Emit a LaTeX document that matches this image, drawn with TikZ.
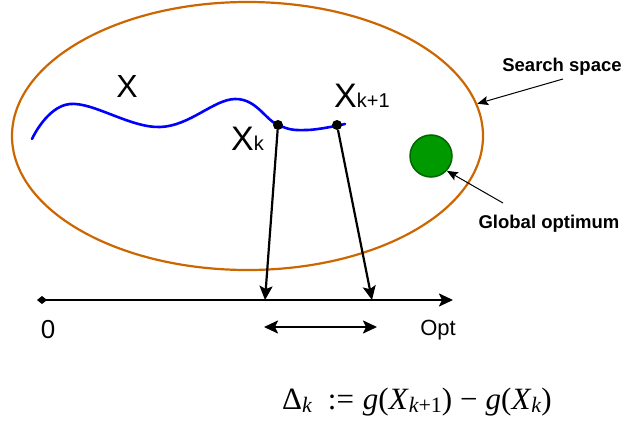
\documentclass[tikz,border=0pt]{standalone}
\usepackage{fontspec}
\setmainfont{Liberation Sans}
\newfontfamily\serif{Liberation Serif}
\usetikzlibrary{arrows.meta,calc,positioning,shapes.geometric}
\definecolor{spaceorange}{RGB}{204,102,0}
\definecolor{optgreen}{RGB}{0,153,0}
\definecolor{optborder}{RGB}{0,102,0}
\newcommand{\lowidx}[1]{\raisebox{-0.12em}{\fontsize{22}{26}\selectfont\itshape #1}}

\begin{document}
\begin{tikzpicture}[
    x=1pt, y=-1pt,
    space/.style={draw=spaceorange, line width=2.2pt, ellipse, minimum width=471pt, minimum height=268pt, inner sep=0pt},
    point/.style={circle, fill=black, inner sep=0pt, minimum size=10pt},
    label/.style={inner sep=0pt, font=\fontsize{32}{36}\selectfont},
    note/.style={inner sep=0pt, font=\bfseries\fontsize{18.5}{22}\selectfont},
    axistip/.tip={Stealth[length=14pt, width=13pt, inset=3pt]},
    arrow/.style={-axistip, line width=2.2pt},
    thinarrow/.style={-{Stealth[length=11pt, width=9pt, inset=2pt]}, line width=1pt}
  ]
    \useasboundingbox (0,0) rectangle (624,423);

    % search space and optimum
    \node[space] (space) at (247.5,136) {};
    \node[circle, fill=optgreen, draw=optborder, line width=1.5pt, minimum size=42pt, inner sep=0pt] (optimum) at (431,156) {};

    % trajectory
    \draw[blue, line width=2.6pt, line cap=round] plot[smooth, tension=0.65] coordinates
      {(32,139) (70,104) (160,127) (235,99) (278,125) (307,130) (345,124)};
    \node[point] (xk) at (278,125) {};
    \node[point] (xk1) at (337,125) {};

    \node[label, anchor=base] (xlab) at (127,97) {X};
    \node[label, anchor=base west, font=\fontsize{34}{38}\selectfont] (xklab) at (231,150)
      {X{\fontsize{20}{24}\selectfont k}};
    \node[label, anchor=base west, font=\fontsize{34}{38}\selectfont] (xk1lab) at (334,107)
      {X{\fontsize{20}{24}\selectfont k+1}};

    % labels with pointers
    \node[note, anchor=base] (sslab) at (562,71) {Search space};
    \node[note, anchor=base] (golab) at (549,228) {Global optimum};
    \coordinate (sstail) at (563,79);
    \coordinate (gotail) at (503,203);
    \draw[thinarrow] (sstail) -- (space.8);
    \draw[thinarrow] (gotail) -- (optimum.-43);

    % value axis
    \coordinate (zero) at (37,300);
    \coordinate (axisend) at (453,300);
    \coordinate (pk) at (265,300);
    \coordinate (pk1) at (372,300);
    \draw[arrow, {Diamond[length=10pt, width=8pt]}-axistip] (zero) -- (axisend);
    \draw[arrow] (xk) -- (pk);
    \draw[arrow] (xk1) -- (pk1);

    \coordinate (dl) at (264,327);
    \coordinate (dr) at (377,327);
    \draw[arrow, axistip-axistip] (dl) -- (dr);

    \node[anchor=base, inner sep=0pt, font=\fontsize{26}{30}\selectfont] (zerolab) at (48,338) {0};
    \node[anchor=base, inner sep=0pt, font=\fontsize{22}{26}\selectfont] (optlab) at (438,335) {Opt};

    \node[anchor=base west, inner sep=0pt, font=\serif\fontsize{31}{36}\selectfont] (delta) at (282,409)
      {Δ\lowidx{k}\hspace{16pt}:=\hspace{9pt}\textit{g}(\textit{X}\lowidx{k{\upshape+1}})\hspace{8pt}−\hspace{8pt}\textit{g}(\textit{X}\lowidx{k})};
  \end{tikzpicture}
\end{document}
